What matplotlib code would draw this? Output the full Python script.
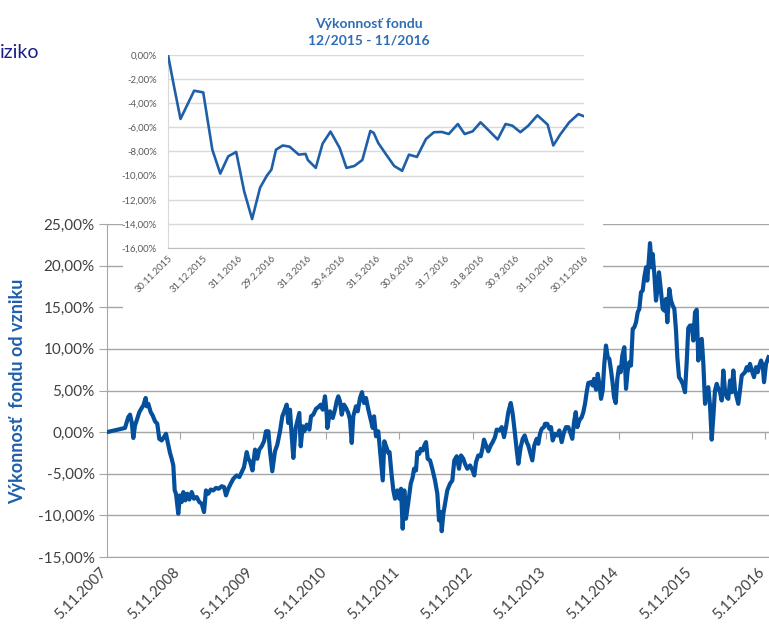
import matplotlib
matplotlib.use("Agg")
import matplotlib.pyplot as plt
import matplotlib.ticker as mticker
import pandas as pd

plt.rcParams['font.family'] = ['Lato', 'DejaVu Sans']

# ---------------- main series (decimal year, % since inception) ----------------
main_t = [2007.847, 2008.093, 2008.138, 2008.162, 2008.185, 2008.207, 2008.230, 2008.253, 2008.289,
          2008.322, 2008.344, 2008.376, 2008.390, 2008.412, 2008.445, 2008.472, 2008.504, 2008.535,
          2008.562, 2008.595, 2008.627, 2008.654, 2008.677, 2008.709, 2008.732, 2008.754, 2008.773,
          2008.791, 2008.822, 2008.846, 2008.869, 2008.891, 2008.918, 2008.946, 2008.973, 2009.006,
          2009.037, 2009.074, 2009.110, 2009.143, 2009.174, 2009.201, 2009.233, 2009.266, 2009.301,
          2009.338, 2009.375, 2009.416, 2009.448, 2009.475, 2009.506, 2009.539, 2009.575, 2009.621,
          2009.657, 2009.690, 2009.721, 2009.758, 2009.780, 2009.803, 2009.837, 2009.872, 2009.903,
          2009.930, 2009.963, 2009.995, 2010.022, 2010.054, 2010.077, 2010.108, 2010.145, 2010.177,
          2010.214, 2010.245, 2010.272, 2010.305, 2010.327, 2010.350, 2010.374, 2010.396, 2010.428,
          2010.456, 2010.478, 2010.497, 2010.524, 2010.546, 2010.579, 2010.615, 2010.638, 2010.669,
          2010.706, 2010.738, 2010.770, 2010.798, 2010.829, 2010.853, 2010.861, 2010.898, 2010.935,
          2010.966, 2010.989, 2011.011, 2011.034, 2011.058, 2011.089, 2011.117, 2011.148, 2011.171,
          2011.195, 2011.216, 2011.253, 2011.277, 2011.308, 2011.335, 2011.363, 2011.390, 2011.422,
          2011.454, 2011.482, 2011.500, 2011.527, 2011.558, 2011.591, 2011.619, 2011.641, 2011.673,
          2011.695, 2011.712, 2011.739, 2011.764, 2011.787, 2011.818, 2011.846, 2011.869, 2011.892,
          2011.914, 2011.937, 2011.969, 2012.002, 2012.029, 2012.047, 2012.074, 2012.092, 2012.119,
          2012.138, 2012.166, 2012.188, 2012.211, 2012.234, 2012.266, 2012.297, 2012.334, 2012.366,
          2012.389, 2012.412, 2012.426, 2012.448, 2012.471, 2012.502, 2012.539, 2012.571, 2012.598,
          2012.631, 2012.662, 2012.690, 2012.721, 2012.744, 2012.776, 2012.813, 2012.844, 2012.872,
          2012.895, 2012.926, 2012.959, 2012.987, 2013.004, 2013.032, 2013.063, 2013.096, 2013.123,
          2013.155, 2013.178, 2013.214, 2013.247, 2013.278, 2013.305, 2013.337, 2013.370, 2013.397,
          2013.428, 2013.452, 2013.474, 2013.506, 2013.534, 2013.561, 2013.588, 2013.610, 2013.634,
          2013.665, 2013.692, 2013.725, 2013.747, 2013.770, 2013.794, 2013.825, 2013.839, 2013.870,
          2013.898, 2013.921, 2013.944, 2013.976, 2014.007, 2014.035, 2014.067, 2014.099, 2014.126,
          2014.158, 2014.190, 2014.212, 2014.236, 2014.259, 2014.281, 2014.308, 2014.341, 2014.363,
          2014.386, 2014.409, 2014.431, 2014.464, 2014.491, 2014.509, 2014.537, 2014.560, 2014.582,
          2014.605, 2014.628, 2014.650, 2014.673, 2014.697, 2014.719, 2014.742, 2014.765, 2014.783,
          2014.806, 2014.828, 2014.851, 2014.874, 2014.896, 2014.924, 2014.947, 2014.970, 2014.992,
          2015.015, 2015.039, 2015.061, 2015.084, 2015.107, 2015.129, 2015.152, 2015.175, 2015.197,
          2015.221, 2015.238, 2015.262, 2015.275, 2015.299, 2015.312, 2015.334, 2015.357, 2015.375,
          2015.398, 2015.422, 2015.449, 2015.471, 2015.494, 2015.512, 2015.539, 2015.563, 2015.586,
          2015.608, 2015.631, 2015.649, 2015.672, 2015.695, 2015.723, 2015.754, 2015.777, 2015.799,
          2015.822, 2015.846, 2015.868, 2015.891, 2015.914, 2015.936, 2015.959, 2015.983, 2016.005,
          2016.028, 2016.051, 2016.073, 2016.096, 2016.119, 2016.141, 2016.164, 2016.188, 2016.210,
          2016.233, 2016.256, 2016.278, 2016.301, 2016.324, 2016.346, 2016.370, 2016.393, 2016.415,
          2016.438, 2016.461, 2016.483, 2016.506, 2016.530, 2016.552, 2016.575, 2016.598, 2016.620,
          2016.643, 2016.667, 2016.698, 2016.725, 2016.749, 2016.771, 2016.794, 2016.817, 2016.835,
          2016.862, 2016.896]
main_v = [0.0, 0.5, 1.8, 2.1, 1.2, -0.7, 0.8, 1.4, 2.4,
          2.9, 3.2, 4.1, 3.1, 3.4, 2.4, 2.0, 1.3, 1.0,
          -0.8, -1.0, -0.6, -0.2, -1.2, -2.5, -3.2, -4.0, -7.0,
          -7.4, -9.8, -7.6, -8.4, -7.2, -8.2, -7.4, -8.1, -7.2,
          -8.0, -7.8, -8.4, -8.6, -9.6, -7.0, -7.4, -6.9, -7.0,
          -6.7, -6.8, -6.5, -6.6, -7.6, -6.8, -6.2, -5.6, -5.2,
          -5.4, -4.8, -4.2, -2.4, -3.2, -3.5, -4.6, -2.1, -3.2,
          -2.1, -1.7, -1.1, 0.1, 0.1, -2.3, -4.7, -2.3, -1.5,
          0.1, 1.9, 2.5, 3.3, 1.1, 2.7, -0.5, -3.1, 0.5,
          1.5, 2.3, -1.7, 0.7, 0.1, 0.9, 0.3, 1.9, 2.1,
          2.8, 3.0, 3.3, 2.7, 4.3, 2.1, 0.5, 2.5, 1.7,
          2.7, 3.7, 4.3, 3.7, 2.1, 3.3, 2.9, 2.3, 1.5,
          -1.3, 1.9, 3.1, 2.5, 4.1, 4.8, 3.5, 4.1, 2.7,
          1.5, 0.5, 1.9, -0.5, 0.1, -3.1, -5.8, -1.1, -1.9,
          -2.5, -2.4, -5.0, -7.0, -8.0, -7.0, -8.0, -6.8, -11.6,
          -7.0, -10.4, -8.4, -6.2, -5.4, -4.4, -4.6, -2.4, -2.6,
          -2.0, -2.2, -1.6, -1.2, -3.2, -3.4, -4.4, -5.8, -7.4,
          -10.6, -9.6, -11.9, -9.8, -8.6, -7.0, -6.2, -5.8, -3.4,
          -2.9, -4.4, -2.8, -3.2, -3.8, -4.4, -4.0, -4.5, -5.2,
          -3.6, -2.8, -2.9, -1.8, -0.9, -1.6, -2.3, -1.6, -1.2,
          -0.6, 0.3, 0.2, 0.6, -0.6, 0.6, 2.4, 3.5, 2.2,
          -0.2, -2.2, -3.8, -1.8, -0.8, -0.4, -1.2, -1.6, -2.4,
          -3.4, -1.6, -0.8, -1.4, -0.2, 0.4, 0.6, 1.0, 1.0,
          0.4, 0.6, -1.0, -0.2, -0.4, 0.2, -1.2, 0.0, 0.6,
          0.6, -0.2, -0.8, 1.2, 2.4, 0.6, 1.4, 1.8, 2.4,
          3.4, 4.8, 5.9, 6.0, 5.6, 6.4, 5.1, 7.0, 5.8,
          4.0, 5.0, 8.2, 10.4, 9.0, 8.8, 7.4, 5.8, 4.2,
          3.5, 6.4, 7.8, 7.2, 9.2, 10.2, 5.2, 7.4, 8.4,
          8.0, 12.4, 12.6, 13.2, 14.4, 14.8, 16.8, 17.0, 18.6,
          19.8, 18.2, 21.0, 22.7, 19.8, 21.4, 19.0, 15.8, 17.0,
          19.2, 17.2, 14.8, 14.6, 16.0, 13.2, 17.2, 15.8, 15.2,
          14.8, 12.2, 9.0, 6.6, 6.3, 5.8, 4.8, 8.4, 12.5,
          12.8, 12.8, 11.0, 14.4, 14.7, 8.6, 11.0, 11.2, 8.2,
          3.4, 5.0, 5.4, 3.2, -0.9, 1.8, 5.0, 5.8, 5.2,
          4.8, 3.8, 7.4, 5.0, 4.2, 4.0, 6.2, 4.8, 7.4,
          5.0, 4.2, 3.4, 5.0, 6.8, 7.0, 7.2, 7.8, 7.4,
          8.2, 7.4, 6.6, 7.8, 7.2, 8.0, 8.6, 8.0, 6.0,
          8.2, 9.0]

main_xlim = (2007.847, 2016.903)
main_ticks = [2007.847, 2008.847, 2009.847, 2010.847, 2011.847, 2012.847,
              2013.847, 2014.847, 2015.847, 2016.847]
main_tick_labels = ['5.11.2007', '5.11.2008', '5.11.2009', '5.11.2010', '5.11.2011',
                    '5.11.2012', '5.11.2013', '5.11.2014', '5.11.2015', '5.11.2016']
main_yticks = [-15, -10, -5, 0, 5, 10, 15, 20, 25]

# ---------------- inset series (12/2015 - 11/2016) ----------------
inset_dates = ['2015-11-30', '2015-12-05', '2015-12-11', '2015-12-23', '2015-12-31', '2016-01-08',
               '2016-01-15', '2016-01-22', '2016-01-29', '2016-02-05', '2016-02-12', '2016-02-19',
               '2016-02-25', '2016-02-29', '2016-03-04', '2016-03-10', '2016-03-16', '2016-03-24',
               '2016-03-30', '2016-04-01', '2016-04-08', '2016-04-14', '2016-04-21', '2016-04-29',
               '2016-05-05', '2016-05-12', '2016-05-19', '2016-05-26', '2016-05-29', '2016-06-02',
               '2016-06-09', '2016-06-16', '2016-06-23', '2016-06-29', '2016-07-06', '2016-07-14',
               '2016-07-21', '2016-07-28', '2016-08-03', '2016-08-11', '2016-08-17', '2016-08-24',
               '2016-08-31', '2016-09-08', '2016-09-15', '2016-09-22', '2016-09-28', '2016-10-05',
               '2016-10-12', '2016-10-20', '2016-10-29', '2016-11-03', '2016-11-09', '2016-11-17',
               '2016-11-25', '2016-11-30']
inset_v = [0.0, -2.46, -5.3, -2.96, -3.1, -7.85,
           -9.83, -8.4, -8.04, -11.3, -13.6, -11.0,
           -10.0, -9.5, -7.85, -7.5, -7.6, -8.26,
           -8.2, -8.7, -9.36, -7.35, -6.35, -7.7,
           -9.36, -9.2, -8.7, -6.3, -6.46, -7.3,
           -8.26, -9.2, -9.6, -8.26, -8.45, -6.96,
           -6.4, -6.38, -6.55, -5.72, -6.55, -6.33,
           -5.58, -6.33, -7.0, -5.72, -5.86, -6.4,
           -5.86, -5.0, -5.77, -7.5, -6.6, -5.58,
           -4.9, -5.08]
inset_tick_dates = ['2015-11-30', '2015-12-31', '2016-01-31', '2016-02-29', '2016-03-31',
                    '2016-04-30', '2016-05-31', '2016-06-30', '2016-07-31', '2016-08-31',
                    '2016-09-30', '2016-10-31', '2016-11-30']
inset_tick_labels = ['30.11.2015', '31.12.2015', '31.1.2016', '29.2.2016', '31.3.2016',
                     '30.4.2016', '31.5.2016', '30.6.2016', '31.7.2016', '31.8.2016',
                     '30.9.2016', '31.10.2016', '30.11.2016']
inset_yticks = [-16, -14, -12, -10, -8, -6, -4, -2, 0]

W, H = 769, 630
fig = plt.figure(figsize=(W / 100, H / 100), dpi=100)
fig.patch.set_facecolor('white')

def fx(px):
    return px / W

def fy(py):
    return 1 - py / H

def pct(v, pos=None):
    return f"{v:.2f}%".replace('.', ',')

GRID = '#a6a6a6'
TXT = '#404040'
LINE = '#05509c'

# ---------------- main axes ----------------
ax = fig.add_axes([fx(107), fy(557), fx(769) - fx(107), fy(224) - fy(557)])
ax.plot(main_t, main_v, color=LINE, lw=3.0, solid_joinstyle='round', zorder=3)
ax.set_xlim(*main_xlim)
ax.set_ylim(-15, 25)
ax.set_yticks(main_yticks)
ax.yaxis.set_major_formatter(mticker.FuncFormatter(pct))
ax.grid(axis='y', color=GRID, lw=1)
for s in ['top', 'right']:
    ax.spines[s].set_visible(False)
ax.spines['left'].set_color(GRID)
ax.spines['bottom'].set_color(GRID)
ax.tick_params(axis='y', length=6, color=GRID, labelsize=11, labelcolor=TXT, pad=3)
ax.set_xticks([])
# category axis crossing at 0 %
sec = ax.secondary_xaxis(0.375)
sec.set_xticks(main_ticks)
sec.set_xticklabels([])
sec.spines['bottom'].set_color(GRID)
sec.tick_params(axis='x', direction='out', length=5, color=GRID)
for t, lab in zip(main_ticks, main_tick_labels):
    ax.text(t + 0.035, -0.025, lab, transform=ax.get_xaxis_transform(), rotation=45,
            ha='right', va='top', fontsize=10.5, color=TXT)

fig.text(fx(18), fy(391), 'Výkonnosť  fondu od vzniku', rotation=90, ha='center',
         va='center', fontsize=13, fontweight='bold', color='#1f5fae')
fig.text(0.0, fy(52), 'iziko', ha='left', va='center', fontsize=14, color='#1c1c8a')

# ---------------- white inset box ----------------
cover = fig.add_axes([fx(123), fy(325), fx(603) - fx(123), fy(0) - fy(325)])
cover.set_facecolor('white')
cover.set_xticks([]); cover.set_yticks([])
for s in cover.spines.values():
    s.set_visible(False)
cover.set_zorder(5)

# ---------------- inset axes ----------------
ins = fig.add_axes([fx(168), fy(248), fx(584) - fx(168), fy(55) - fy(248)])
ins.set_zorder(6)
ins.set_facecolor('white')
idates = pd.to_datetime(inset_dates)
ins.plot(idates, inset_v, color='#1f5fa8', lw=1.9, zorder=3)
ins.set_xlim(pd.Timestamp(inset_tick_dates[0]), pd.Timestamp(inset_tick_dates[-1]))
ins.set_ylim(-16, 0)
ins.set_yticks(inset_yticks)
ins.yaxis.set_major_formatter(mticker.FuncFormatter(pct))
ins.grid(axis='y', color='#d9d9d9', lw=1)
ins.set_xticks(pd.to_datetime(inset_tick_dates))
ins.set_xticklabels(inset_tick_labels, rotation=45, ha='right', rotation_mode='anchor')
for s in ['top', 'right']:
    ins.spines[s].set_visible(False)
ins.spines['left'].set_color('#d9d9d9')
ins.spines['bottom'].set_color('#bfbfbf')
ins.tick_params(axis='both', length=0, labelsize=6.8, labelcolor='#595959')
ins.tick_params(axis='y', pad=8)
ins.tick_params(axis='x', pad=4)

fig.text(fx(369), fy(32), 'Výkonnosť fondu\n12/2015 - 11/2016', ha='center', va='center',
         fontsize=10, fontweight='bold', color='#2e6db4', linespacing=1.45, zorder=10)

fig.savefig('out.png', dpi=100, facecolor='white')
